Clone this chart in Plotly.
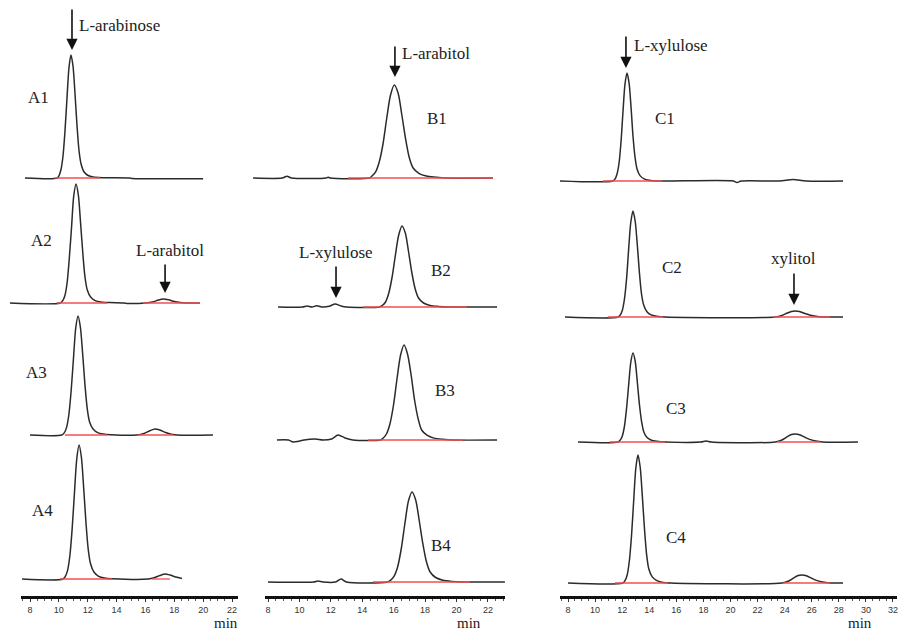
import plotly.graph_objects as go

W, H = 898, 634

# ---------------- data (retention time in min, detector signal in a.u.) ----------------
A1_t = [7.65, 9.9, 10.00, 10.14, 10.28, 10.42, 10.56, 10.70, 10.84, 10.98, 11.12, 11.26, 11.40, 11.54, 11.75, 12.03, 12.38, 13.0, 14.9, 15.1, 20.0]
A1_s = [0, 0, 2, 8, 21, 46, 79, 110, 123, 112, 84, 52, 27, 14, 6, 2.5, 1, 0.3, 0, -0.5, -0.7]
A2_t = [6.61, 10.1, 10.25, 10.41, 10.57, 10.72, 10.88, 11.03, 11.19, 11.35, 11.50, 11.66, 11.81, 11.97, 12.20, 12.52, 12.91, 13.5, 14.5, 14.8, 16.0, 16.5, 16.9, 17.22, 17.6, 18.0, 18.4, 18.8, 19.78]
A2_s = [0, 0, 2, 7, 20, 44, 76, 107, 119, 108, 81, 50, 26, 13, 6, 2.4, 1, 0.4, 0, -0.5, 0, 1, 3, 4, 3.2, 1.5, 0.5, 0, 0]
A3_t = [8.0, 10.2, 10.37, 10.53, 10.69, 10.85, 11.01, 11.17, 11.33, 11.49, 11.65, 11.81, 11.97, 12.13, 12.37, 12.69, 13.09, 13.6, 15.4, 15.9, 16.3, 16.66, 17.0, 17.4, 17.8, 18.2, 20.68]
A3_s = [0, 0, 2.1, 7.4, 20, 44, 76, 107, 119, 108, 81, 50, 26, 13, 6, 2.4, 1, 0.3, 0, 1.5, 4.2, 6, 5, 2.5, 0.8, 0, 0]
A4_t = [7.45, 10.3, 10.44, 10.60, 10.76, 10.92, 11.08, 11.24, 11.40, 11.56, 11.72, 11.88, 12.04, 12.20, 12.44, 12.76, 13.16, 13.7, 16.2, 16.6, 17.0, 17.36, 17.7, 18.1, 18.53]
A4_s = [0, 0, 2.4, 8.4, 23, 50, 86, 120, 134, 122, 91, 56, 29, 15, 6.7, 2.7, 1, 0.3, 0, 1.2, 3.5, 5, 4, 2, 0.6]

B1_t = [7.05, 8.9, 9.21, 9.5, 11.7, 11.82, 11.95, 14.45, 14.60, 14.84, 15.08, 15.32, 15.56, 15.80, 16.04, 16.28, 16.52, 16.76, 17.00, 17.24, 17.60, 18.08, 18.68, 19.3, 22.32]
B1_s = [0, 0, 1.8, 0, 0, 0.8, 0, 0, 1.7, 5.8, 16, 34, 60, 83, 93, 85, 63, 39, 20, 10, 4.7, 1.9, 0.8, 0, 0]
B2_t = [8.64, 10.2, 10.48, 10.8, 11.1, 11.5, 11.9, 12.27, 12.65, 13.0, 15.1, 15.27, 15.48, 15.69, 15.90, 16.11, 16.32, 16.53, 16.74, 16.95, 17.16, 17.37, 17.58, 17.90, 18.32, 18.84, 19.5, 22.58]
B2_s = [0, 0, 1, 0, 1.2, 0, 0.8, 3, 1, 0, 0, 1.5, 5, 14, 30, 52, 72, 81, 74, 55, 34, 18, 9, 4, 1.6, 0.6, 0, 0]
B3_t = [8.57, 9.3, 9.6, 9.9, 10.3, 11.0, 11.5, 12.05, 12.46, 12.9, 13.4, 15.15, 15.32, 15.54, 15.76, 15.99, 16.21, 16.44, 16.66, 16.88, 17.11, 17.33, 17.56, 17.78, 18.12, 18.56, 19.12, 19.8, 22.58]
B3_s = [0, 0, -2, -1.5, 0, 1, 0, 1, 5, 2, 0, 0, 1.7, 6, 16, 35, 61, 85, 95, 86, 65, 40, 21, 10, 4.8, 1.9, 0.7, 0, 0]
B4_t = [8.0, 10.9, 11.18, 11.5, 12.3, 12.65, 13.0, 15.6, 15.79, 16.02, 16.25, 16.48, 16.71, 16.94, 17.17, 17.40, 17.63, 17.86, 18.09, 18.32, 18.67, 19.13, 19.70, 20.4, 23.08]
B4_s = [0, 0, 1, 0, 0, 3, 0, 0, 1.6, 5.6, 15, 33, 58, 81, 90, 82, 61, 38, 20, 10, 4.5, 1.8, 0.6, 0, 0]

C1_t = [7.41, 11.3, 11.47, 11.62, 11.77, 11.92, 12.06, 12.21, 12.36, 12.51, 12.66, 12.80, 12.95, 13.10, 13.32, 13.62, 13.99, 14.6, 20.2, 20.48, 20.8, 23.6, 24.62, 25.6, 28.31]
C1_s = [0, 0, 1.9, 7, 18, 40, 69, 97, 108, 98, 73, 45, 24, 12, 5.4, 2.2, 0.8, 0, 0, -1.5, 0, 0, 1.5, 0, 0]
C2_t = [7.78, 11.7, 11.85, 12.01, 12.17, 12.33, 12.48, 12.64, 12.80, 12.96, 13.12, 13.27, 13.43, 13.59, 13.83, 14.14, 14.54, 15.2, 23.3, 23.8, 24.2, 24.5, 24.77, 25.1, 25.5, 25.9, 26.3, 26.8, 28.31]
C2_s = [0, 0, 1.9, 6.6, 18, 39, 68, 95, 106, 96, 72, 45, 23, 12, 5.3, 2.1, 0.8, 0, 0, 1.5, 4, 5.6, 6, 5.5, 3.5, 1.8, 0.7, 0, 0]
C3_t = [8.74, 11.7, 11.84, 12.00, 12.16, 12.32, 12.48, 12.64, 12.80, 12.96, 13.12, 13.28, 13.44, 13.60, 13.84, 14.16, 14.56, 15.2, 17.8, 18.19, 18.6, 23.3, 23.8, 24.2, 24.5, 24.77, 25.1, 25.5, 25.9, 26.3, 26.8, 29.42]
C3_s = [0, 0, 1.6, 5.6, 15, 33, 57, 80, 89, 81, 60, 37, 20, 10, 4.5, 1.8, 0.7, 0, 0, 1, 0, 0, 2, 5.3, 7.5, 8, 7.3, 4.7, 2.4, 0.9, 0, 0]
C4_t = [8.0, 12.05, 12.21, 12.37, 12.53, 12.69, 12.85, 13.01, 13.17, 13.33, 13.49, 13.65, 13.81, 13.97, 14.21, 14.53, 14.93, 15.6, 23.8, 24.3, 24.7, 25.0, 25.28, 25.6, 26.0, 26.4, 26.8, 27.3, 28.31]
C4_s = [0, 0, 2.3, 8, 22, 47, 82, 115, 128, 116, 87, 54, 28, 14, 6.4, 2.6, 0.8, 0, 0, 2, 5.3, 7.5, 8, 7.3, 4.7, 2.4, 0.9, 0, 0]

# integration baselines (start, end) in min
A1_int = [(9.73, 12.85)]
A2_int = [(9.87, 13.34), (15.83, 19.78)]
A3_int = [(10.43, 13.34), (15.48, 17.91)]
A4_int = [(10.08, 13.68), (16.45, 17.70)]
B1_int = [(13.09, 22.32)]
B2_int = [(14.05, 20.67)]
B3_int = [(14.37, 20.41)]
B4_int = [(14.68, 20.86)]
C1_int = [(10.58, 14.94)]
C2_int = [(10.95, 15.02), (23.14, 27.35)]
C3_int = [(11.10, 15.16), (23.44, 26.61)]
C4_int = [(11.47, 15.39), (23.88, 27.35)]

ruler_ticks_A = [8, 10, 12, 14, 16, 18, 20, 22]
ruler_ticks_B = [8, 10, 12, 14, 16, 18, 20, 22]
ruler_ticks_C = [8, 10, 12, 14, 16, 18, 20, 22, 24, 26, 28, 30, 32]

PANELS = {
    'A1': (A1_t, A1_s, A1_int), 'A2': (A2_t, A2_s, A2_int), 'A3': (A3_t, A3_s, A3_int), 'A4': (A4_t, A4_s, A4_int),
    'B1': (B1_t, B1_s, B1_int), 'B2': (B2_t, B2_s, B2_int), 'B3': (B3_t, B3_s, B3_int), 'B4': (B4_t, B4_s, B4_int),
    'C1': (C1_t, C1_s, C1_int), 'C2': (C2_t, C2_s, C2_int), 'C3': (C3_t, C3_s, C3_int), 'C4': (C4_t, C4_s, C4_int),
}

# ---------------- layout geometry (pixels) ----------------
COLS = {'A': (30, 14.43), 'B': (268, 15.71), 'C': (568, 13.54)}   # px of 8 min, px per min
DATA_DOM = {'A': (0, 250), 'B': (250, 558), 'C': (558, 898)}
RULER_DOM = {'A': (21, 238), 'B': (265, 505), 'C': (560, 897)}
BASE = {'A1': 178, 'A2': 303, 'A3': 435, 'A4': 579,
        'B1': 178, 'B2': 307, 'B3': 440, 'B4': 582,
        'C1': 181, 'C2': 317, 'C3': 442, 'C4': 583}
RULER_Y = 596
YTOP = 170
XAX = {'A': 'x', 'B': 'x2', 'C': 'x3'}
RAX = {'A': 'x4', 'B': 'x5', 'C': 'x6'}
TICKS = {'A': ruler_ticks_A, 'B': ruler_ticks_B, 'C': ruler_ticks_C}


def t_of(col, px):
    p0, s = COLS[col]
    return 8 + (px - p0) / s


def xrange_for(col, dom):
    return [t_of(col, dom[0]), t_of(col, dom[1])]


names = list(PANELS.keys())
fig = go.Figure()
layout = dict(width=W, height=H, margin=dict(l=0, r=0, t=0, b=0),
              paper_bgcolor='white', plot_bgcolor='rgba(0,0,0,0)', showlegend=False)

serif = 'Liberation Serif'
INK = '#2b2b2b'
RED = '#f05050'

for col in 'ABC':
    i = {'A': '', 'B': '2', 'C': '3'}[col]
    d = DATA_DOM[col]
    layout['xaxis' + i] = dict(domain=[d[0] / W, d[1] / W], range=xrange_for(col, d), visible=False,
                               anchor='free', position=0)
    j = {'A': '4', 'B': '5', 'C': '6'}[col]
    r = RULER_DOM[col]
    layout['xaxis' + j] = dict(domain=[r[0] / W, r[1] / W], range=xrange_for(col, r), anchor='y13',
                               showline=True, linewidth=3, linecolor='#111', showgrid=False, zeroline=False,
                               tickmode='array', tickvals=TICKS[col], ticks='outside', ticklen=3, tickwidth=1,
                               tickcolor='#333',
                               minor=dict(dtick=0.5, tick0=8, ticks='outside', ticklen=2, tickcolor='#555'),
                               tickfont=dict(family='Liberation Sans Narrow, Liberation Sans', size=9, color='#333'))
    fig.add_trace(go.Scatter(x=[], y=[], xaxis=RAX[col], yaxis='y13', hoverinfo='skip'))

layout['yaxis13'] = dict(domain=[(H - RULER_Y) / H, (H - RULER_Y + 10) / H], visible=False, anchor='x4', range=[0, 1])

annotations = []
for k, name in enumerate(names, start=1):
    col = name[0]
    t, s, ints = PANELS[name]
    b = BASE[name]
    ya = 'y' + ('' if k == 1 else str(k))
    layout['yaxis' + ('' if k == 1 else str(k))] = dict(domain=[(H - (b + 10)) / H, (H - (b - YTOP)) / H],
                                                          range=[-10, YTOP], visible=False, anchor=XAX[col])
    fig.add_trace(go.Scatter(x=t, y=s, xaxis=XAX[col], yaxis=ya, mode='lines',
                             line=dict(color=INK, width=1.5, shape='spline', smoothing=0.8), hoverinfo='skip'))
    for a, e in ints:
        fig.add_trace(go.Scatter(x=[a, e], y=[0, 0], xaxis=XAX[col], yaxis=ya, mode='lines',
                                 line=dict(color=RED, width=1.3), hoverinfo='skip'))

# panel labels: (panel, time, signal)
LABELS = [('A1', 8.62, 81), ('A2', 8.83, 63), ('A3', 8.42, 62), ('A4', 8.90, 69),
          ('B1', 18.76, 60), ('B2', 19.01, 37), ('B3', 19.27, 50), ('B4', 19.01, 37),
          ('C1', 15.16, 63), ('C2', 15.68, 50), ('C3', 15.98, 34), ('C4', 15.98, 46)]
for name, tx, sy in LABELS:
    k = names.index(name) + 1
    annotations.append(dict(x=tx, y=sy, xref=XAX[name[0]], yref='y' + ('' if k == 1 else str(k)),
                            text=name, showarrow=False, font=dict(family=serif, size=17, color='#222')))

# peak arrows: (panel, text, arrow time, tip signal, arrow length px, text time, text signal, text anchor)
ARROWS = [('A1', 'L-arabinose', 10.91, 128, 42, 11.26, 153, 'left'),
          ('B1', 'L-arabitol', 16.08, 101, 32, 16.40, 125, 'left'),
          ('C1', 'L-xylulose', 12.28, 113, 33, 12.73, 136, 'left'),
          ('A2', 'L-arabitol', 17.36, 10, 30, 17.70, 53, 'center'),
          ('B2', 'L-xylulose', 12.33, 9, 33, 12.33, 55, 'center'),
          ('C2', 'xylitol', 24.69, 12, 33, 24.62, 59, 'center')]
for name, txt, ax_t, tip, ln, tx, ty, anc in ARROWS:
    k = names.index(name) + 1
    yr = 'y' + ('' if k == 1 else str(k))
    xr = XAX[name[0]]
    annotations.append(dict(x=ax_t, y=tip, xref=xr, yref=yr, text='', showarrow=True, ax=0, ay=-ln,
                            arrowhead=2, arrowsize=1.4, arrowwidth=1.6, arrowcolor='#111'))
    annotations.append(dict(x=tx, y=ty, xref=xr, yref=yr, text=txt, showarrow=False, xanchor=anc,
                            font=dict(family=serif, size=17, color='#222')))

# "min" axis titles
for col, px in (('A', 212), ('B', 469), ('C', 874)):
    annotations.append(dict(x=px / W, y=(H - 623) / H, xref='paper', yref='paper', text='min', showarrow=False,
                            yanchor='middle', font=dict(family=serif, size=15, color='#222')))

layout['annotations'] = annotations
fig.update_layout(**layout)
fig.write_html('out.html', config={'displayModeBar': False},
               post_script="document.body.style.margin='0';document.body.style.padding='0';")
